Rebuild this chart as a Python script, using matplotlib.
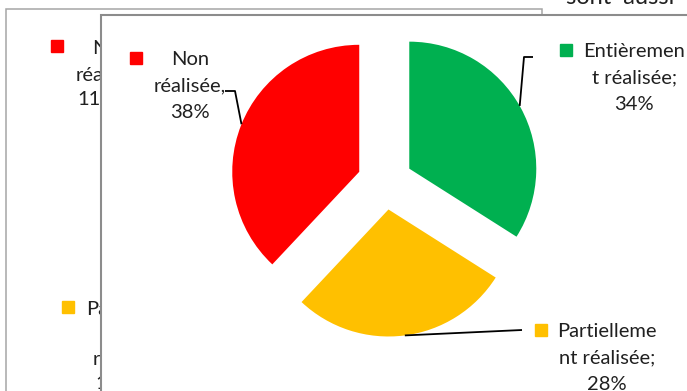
import math
import matplotlib
matplotlib.use("Agg")
import matplotlib.pyplot as plt
from matplotlib.patches import Rectangle

# ---- data ----
categories = ["Entièrement réalisée", "Partiellement réalisée", "Non réalisée"]
values = [34, 28, 38]
colors = ["#00B050", "#FFC000", "#FF0000"]
label_lines = [
    ["Entièremen", "t réalisée;", "34%"],
    ["Partielleme", "nt réalisée;", "28%"],
    ["Non", "réalisée,", "38%"],
]
# background (partly hidden) chart labels
bg_red_lines = ["Non", "réalisée;", "11,5%"]
bg_yellow_lines = ["Partielleme", "nt", "réalisée;", "16%"]
top_text = "sont  aussi"

W, H = 687, 391
FONT = "Lato"
FS = 14.5


def Y(y):
    return H - y


fig = plt.figure(figsize=(W / 100, H / 100), dpi=100)
ax = fig.add_axes([0, 0, 1, 1])

# pie geometry (pixels)
cx, cy, R = 385, 182, 127
expl = 27.7
wedges, _ = ax.pie(values, colors=colors, startangle=90, counterclock=False,
                   center=(cx, Y(cy)), radius=R, explode=[expl] * len(values),
                   wedgeprops=dict(linewidth=0, zorder=5))
ax.set_xlim(0, W)
ax.set_ylim(0, H)
ax.set_aspect("equal")
ax.axis("off")

# background chart frame & inner chart frame
ax.add_patch(Rectangle((6, -20), 536, Y(9) + 20, facecolor="white",
                       edgecolor="#a6a6a6", linewidth=1.1, zorder=0))
ax.add_patch(Rectangle((101, -20), 700, Y(15) + 20, facecolor="white",
                       edgecolor="#8c8c8c", linewidth=1.5, zorder=2))

# text from behind, clipped at top
ax.text(566, Y(4), top_text, fontsize=17, family=FONT, color="#202020",
        ha="left", va="baseline", zorder=1, clip_on=True)

# background chart labels (hidden by inner frame)
ax.add_patch(Rectangle((51, Y(52)), 12, 12, color=colors[2], zorder=1))
for txt, x, yb in zip(bg_red_lines, [92, 76, 77], [54, 80, 104]):
    ax.text(x, Y(yb), txt, fontsize=FS, family=FONT, color="#202020",
            ha="left", va="baseline", zorder=1)
ax.add_patch(Rectangle((62, Y(313)), 12, 12, color=colors[1], zorder=1))
for txt, x, yb in zip(bg_yellow_lines, [86, 105, 93, 95], [315, 340, 364, 389]):
    ax.text(x, Y(yb), txt, fontsize=FS, family=FONT, color="#202020",
            ha="left", va="baseline", zorder=1)

# data labels: (text center x, first baseline y, key square left x)
label_pos = [(634, 57, 560), (607, 337, 535), (190, 65, 130)]
# leader lines: wedge anchor angle (deg), elbow/points in pixels
anchor_angles = [29.6, 277.4, 158.0]
leader_paths = [[(524, 57), (533, 57)], [(522, 330)], [(235, 91), (225, 91)]]

for w, lines, (tx, yb, kx), ang, path in zip(wedges, label_lines, label_pos,
                                             anchor_angles, leader_paths):
    for i, line in enumerate(lines):
        ax.text(tx, Y(yb + 26.3 * i), line, fontsize=FS, family=FONT,
                color="#202020", ha="center", va="baseline", zorder=6)
    ax.add_patch(Rectangle((kx, Y(yb - 1)), 12, 12, color=w.get_facecolor(),
                           zorder=6))
    wx, wy = w.center
    px = wx + w.r * math.cos(math.radians(ang))
    py = wy + w.r * math.sin(math.radians(ang))
    xs = [px] + [p[0] for p in path]
    ys = [py] + [Y(p[1]) for p in path]
    ax.plot(xs, ys, color="black", linewidth=1.3, zorder=6,
            solid_capstyle="butt")

fig.savefig("out.png", dpi=100)
